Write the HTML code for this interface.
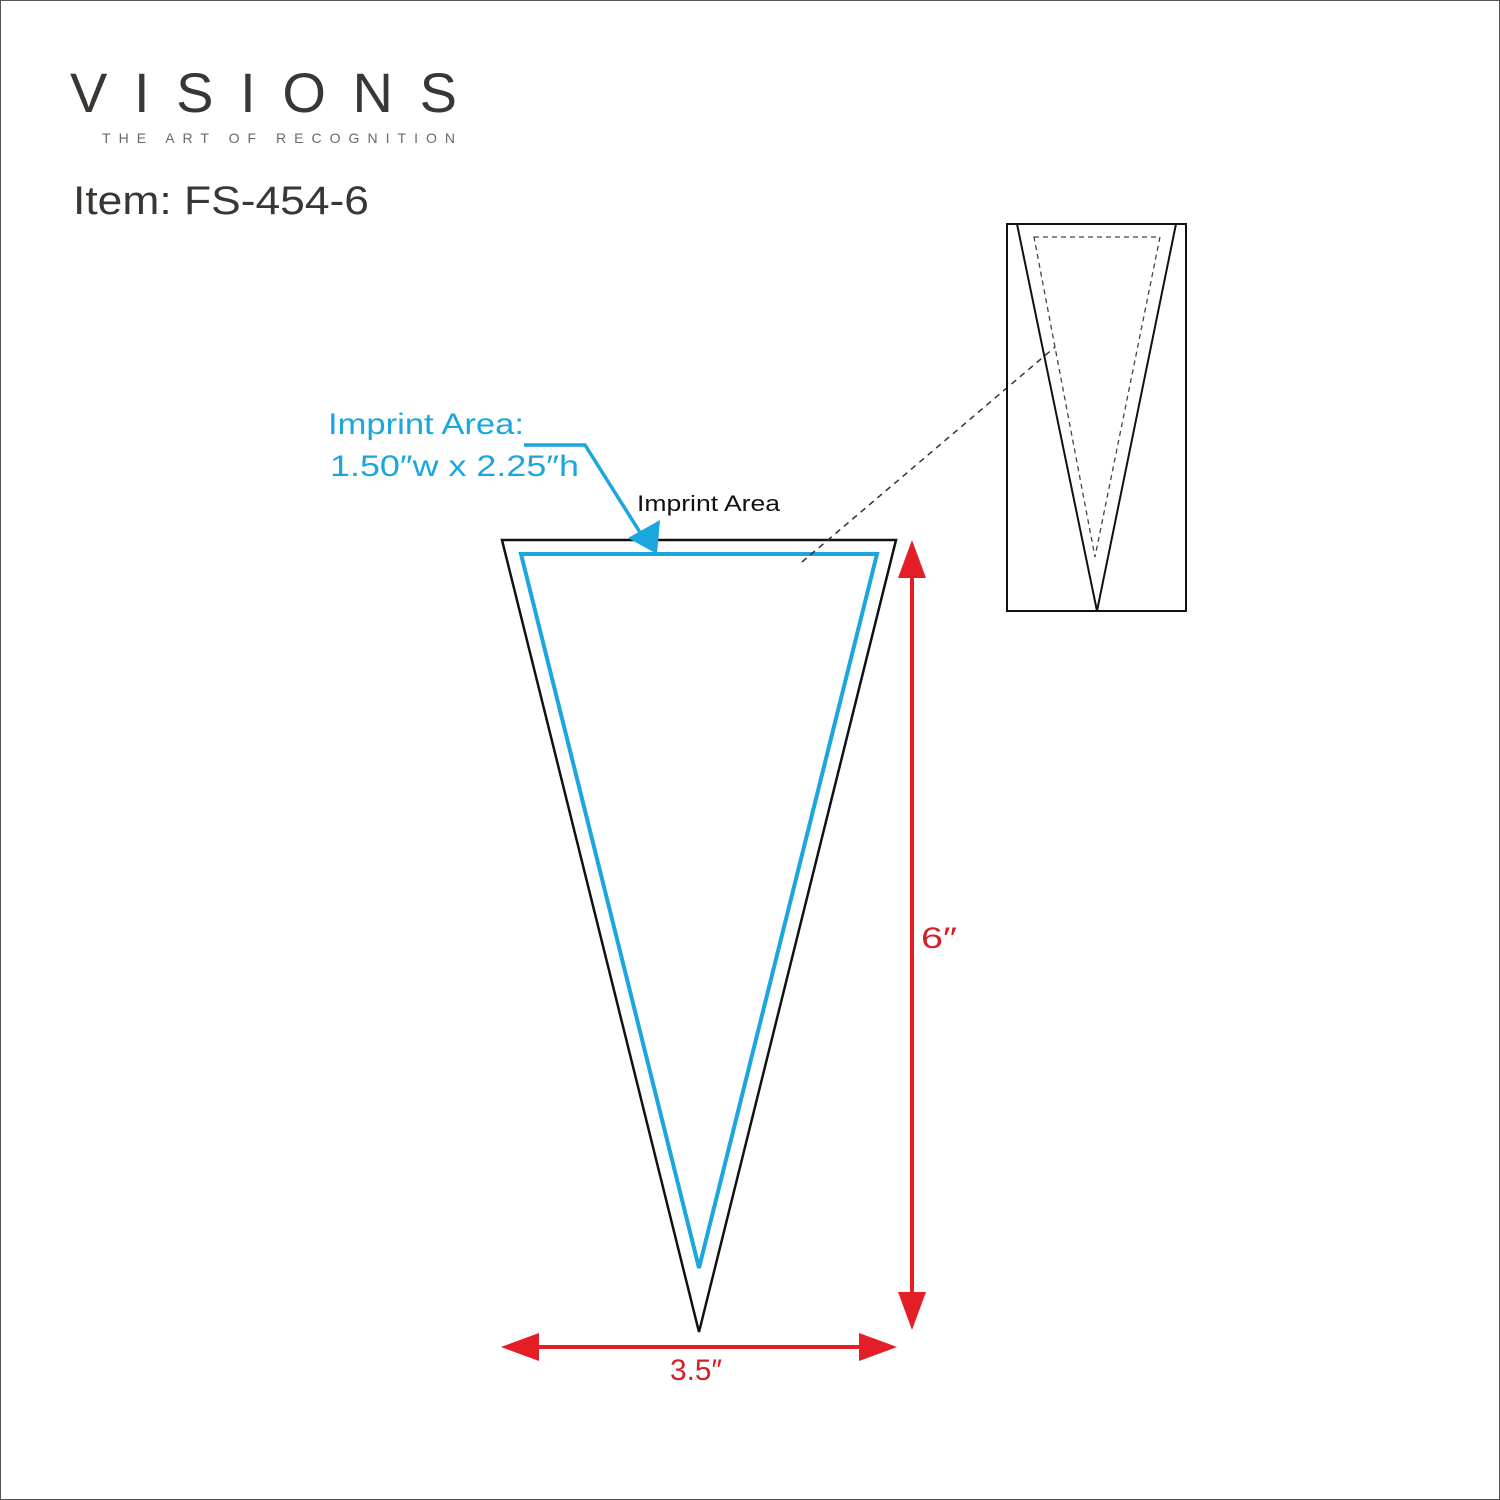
<html><body style="margin:0;background:#fff">
<svg width="1500" height="1500" viewBox="0 0 1500 1500" xmlns="http://www.w3.org/2000/svg" style="display:block">
<rect x="0.5" y="0.5" width="1499" height="1499" fill="#fff" stroke="#555" stroke-width="1"/>
<g font-family="Liberation Sans, sans-serif">
<text x="70" y="112" font-size="56" fill="#3a3633" textLength="387" lengthAdjust="spacing">VISIONS</text>
<text x="102" y="143" font-size="14" fill="#6b6866" textLength="353" lengthAdjust="spacing">THE ART OF RECOGNITION</text>
<text x="73" y="214" font-size="40" fill="#3a3633" textLength="296" lengthAdjust="spacingAndGlyphs">Item: FS-454-6</text>
<text x="328" y="434" font-size="30" fill="#1ba6dd" textLength="196" lengthAdjust="spacingAndGlyphs">Imprint Area:</text>
<text x="330" y="476" font-size="30" fill="#1ba6dd" textLength="249" lengthAdjust="spacingAndGlyphs">1.50″w x 2.25″h</text>
<text x="637" y="511" font-size="22" fill="#111" textLength="143" lengthAdjust="spacingAndGlyphs">Imprint Area</text>
<text x="921" y="948" font-size="30" fill="#d42027" textLength="36" lengthAdjust="spacingAndGlyphs">6″</text>
<text x="670" y="1380" font-size="30" fill="#d42027" textLength="52" lengthAdjust="spacingAndGlyphs">3.5″</text>
</g>
<polygon points="502,540 896,540 699,1332" fill="none" stroke="#111" stroke-width="2.5"/>
<polygon points="521,554 877,554 699,1268" fill="none" stroke="#1ba6dd" stroke-width="4"/>
<polyline points="524,445 585,445 648,545" fill="none" stroke="#1ba6dd" stroke-width="3.5"/>
<polygon points="628,538 660,520 657,554" fill="#1ba6dd"/>
<line x1="802" y1="562" x2="1055" y2="347" stroke="#333" stroke-width="1.5" stroke-dasharray="6,5"/>
<rect x="1007" y="224" width="179" height="387" fill="none" stroke="#111" stroke-width="2"/>
<polyline points="1017,224 1097,611 1176,224" fill="none" stroke="#111" stroke-width="2"/>
<polygon points="1034,237 1160,237 1095,557" fill="none" stroke="#444" stroke-width="1.3" stroke-dasharray="5,4"/>
<line x1="912" y1="560" x2="912" y2="1310" stroke="#e31e26" stroke-width="4"/>
<polygon points="912,540 898,578 926,578" fill="#e31e26"/>
<polygon points="912,1330 898,1292 926,1292" fill="#e31e26"/>
<line x1="520" y1="1347" x2="878" y2="1347" stroke="#e31e26" stroke-width="4"/>
<polygon points="501,1347 539,1333 539,1361" fill="#e31e26"/>
<polygon points="897,1347 859,1333 859,1361" fill="#e31e26"/>
</svg>
</body></html>
